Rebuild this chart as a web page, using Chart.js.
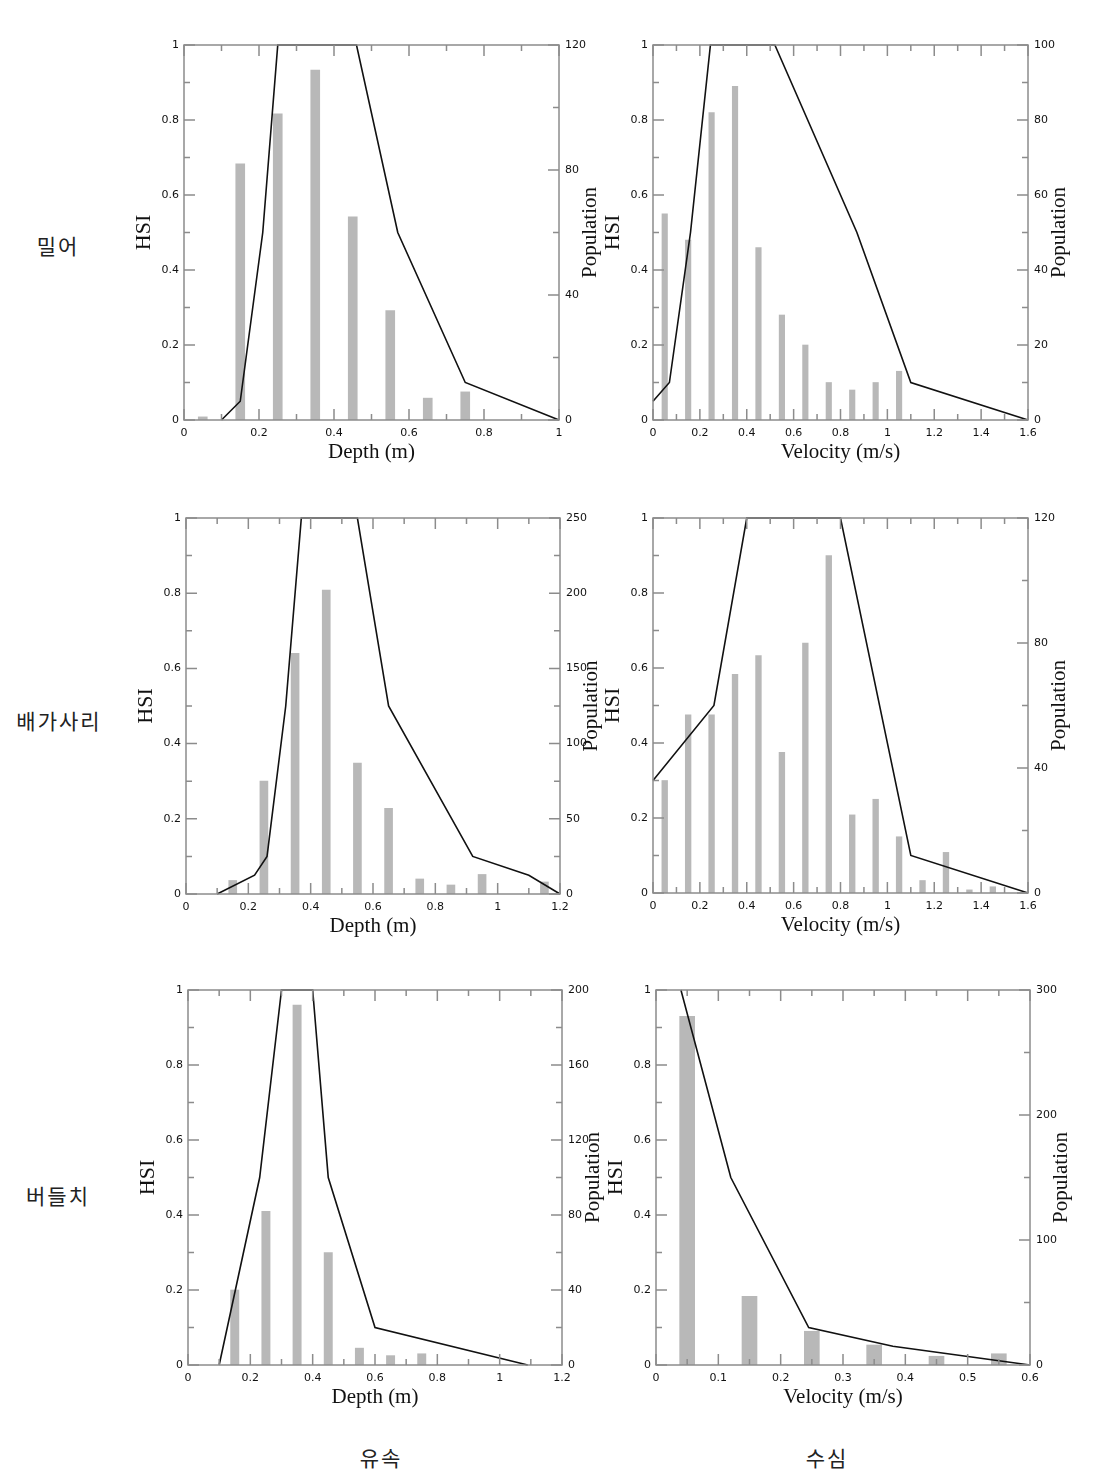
<!DOCTYPE html>
<html>
<head>
<meta charset="utf-8">
<script src="https://cdn.jsdelivr.net/npm/chart.js@4.4.1/dist/chart.umd.min.js"></script>
<style>
  html, body { margin:0; padding:0; background:#fff; }
  body { width:1120px; height:1483px; position:relative; overflow:hidden; }
  canvas { position:absolute; }
  .lbl { position:absolute; font-family:"Noto Sans CJK KR","Noto Sans",sans-serif; font-size:21px; font-weight:normal; letter-spacing:2px; color:#222; transform:translate(-50%,-50%); white-space:nowrap; }
</style>
</head>
<body>
<div class="lbl" style="left:58px;top:245px">밀어</div>
<div class="lbl" style="left:59px;top:720px">배가사리</div>
<div class="lbl" style="left:58px;top:1195px">버들치</div>
<div class="lbl" style="left:381px;top:1457px">유속</div>
<div class="lbl" style="left:827px;top:1457px">수심</div>
<script>
// ---------- DATA ----------
// 밀어 (Depth)
const milDepthBins = [0.05,0.15,0.25,0.35,0.45,0.55,0.65,0.75];
const milDepthPop  = [1,82,98,112,65,35,7,9];
const milDepthHsiX = [0.1,0.15,0.21,0.25,0.46,0.57,0.75,1.0];
const milDepthHsi  = [0,0.05,0.5,1,1,0.5,0.1,0];
// 밀어 (Velocity)
const milVelBins = [0.05,0.15,0.25,0.35,0.45,0.55,0.65,0.75,0.85,0.95,1.05];
const milVelPop  = [55,48,82,89,46,28,20,10,8,10,13];
const milVelHsiX = [0,0.07,0.16,0.245,0.52,0.87,1.1,1.6];
const milVelHsi  = [0.05,0.1,0.5,1,1,0.5,0.1,0];
// 배가사리 (Depth)
const bgDepthBins = [0.15,0.25,0.35,0.45,0.55,0.65,0.75,0.85,0.95,1.15];
const bgDepthPop  = [9,75,160,202,87,57,10,6,13,8];
const bgDepthHsiX = [0.1,0.22,0.26,0.32,0.37,0.55,0.65,0.92,1.1,1.2];
const bgDepthHsi  = [0,0.05,0.1,0.5,1,1,0.5,0.1,0.05,0];
// 배가사리 (Velocity)
const bgVelBins = [0.05,0.15,0.25,0.35,0.45,0.55,0.65,0.75,0.85,0.95,1.05,1.15,1.25,1.35,1.45];
const bgVelPop  = [36,57,57,70,76,45,80,108,25,30,18,4,13,1,2];
const bgVelHsiX = [0,0.26,0.4,0.8,1.1,1.6];
const bgVelHsi  = [0.3,0.5,1,1,0.1,0];
// 버들치 (Depth)
const bdDepthBins = [0.15,0.25,0.35,0.45,0.55,0.65,0.75];
const bdDepthPop  = [40,82,192,60,9,5,6];
const bdDepthHsiX = [0.1,0.23,0.3,0.4,0.45,0.6,1.09];
const bdDepthHsi  = [0,0.5,1,1,0.5,0.1,0];
// 버들치 (Velocity)
const bdVelBins = [0.05,0.15,0.25,0.35,0.45,0.55];
const bdVelPop  = [279,55,27,16,7,9];
const bdVelHsiX = [0.04,0.12,0.245,0.38,0.6];
const bdVelHsi  = [1,0.5,0.1,0.05,0];

// Tick labels
const hsiTickLabels    = ['0','0.2','0.4','0.6','0.8','1'];
const depth10Labels    = ['0','0.2','0.4','0.6','0.8','1'];
const depth12Labels    = ['0','0.2','0.4','0.6','0.8','1','1.2'];
const vel16Labels      = ['0','0.2','0.4','0.6','0.8','1','1.2','1.4','1.6'];
const vel06Labels      = ['0','0.1','0.2','0.3','0.4','0.5','0.6'];
const pop120Labels     = ['0','40','80','120'];
const pop100Labels     = ['0','20','40','60','80','100'];
const pop250Labels     = ['0','50','100','150','200','250'];
const pop200Labels     = ['0','40','80','120','160','200'];
const pop300Labels     = ['0','100','200','300'];

const depthTitle = 'Depth (m)';
const velTitle = 'Velocity (m/s)';
const hsiTitle = 'HSI';
const popTitle = 'Population';

// ---------- PANELS (layout/style) ----------
const panels = [
  {rect:[184,45,559,420],  xTitle:depthTitle, xMax:1.0, xStep:0.1,  xLabels:depth10Labels, popMax:120, popStep:20, popLabels:pop120Labels, bins:milDepthBins, pop:milDepthPop, hx:milDepthHsiX, hy:milDepthHsi, barPx:9},
  {rect:[653,45,1028,420], xTitle:velTitle,   xMax:1.6, xStep:0.1,  xLabels:vel16Labels,   popMax:100, popStep:10, popLabels:pop100Labels, bins:milVelBins,   pop:milVelPop,   hx:milVelHsiX,   hy:milVelHsi,   barPx:5.5},
  {rect:[186,518,560,894], xTitle:depthTitle, xMax:1.2, xStep:0.1,  xLabels:depth12Labels, popMax:250, popStep:25, popLabels:pop250Labels, bins:bgDepthBins,  pop:bgDepthPop,  hx:bgDepthHsiX,  hy:bgDepthHsi,  barPx:8},
  {rect:[653,518,1028,893],xTitle:velTitle,   xMax:1.6, xStep:0.1,  xLabels:vel16Labels,   popMax:120, popStep:20, popLabels:pop120Labels, bins:bgVelBins,    pop:bgVelPop,    hx:bgVelHsiX,    hy:bgVelHsi,    barPx:5.7},
  {rect:[188,990,562,1365],xTitle:depthTitle, xMax:1.2, xStep:0.1,  xLabels:depth12Labels, popMax:200, popStep:20, popLabels:pop200Labels, bins:bdDepthBins,  pop:bdDepthPop,  hx:bdDepthHsiX,  hy:bdDepthHsi,  barPx:8.3},
  {rect:[656,990,1030,1365],xTitle:velTitle,  xMax:0.6, xStep:0.05, xLabels:vel06Labels,   popMax:300, popStep:50, popLabels:pop300Labels, bins:bdVelBins,    pop:bdVelPop,    hx:bdVelHsiX,    hy:bdVelHsi,    barPx:15}
];

const PAD_L = 70, PAD_R = 70, PAD_T = 15, PAD_B = 50;
const FRAME = '#8c8c8c';
const TICK_FONT = {family:'DejaVu Sans', size:11};
const TITLE_FONT = 'Liberation Serif';

function isLabel(v, labels) {
  return labels.some(s => Math.abs(parseFloat(s) - v) < 1e-6);
}
function labelFor(v, labels) {
  const s = labels.find(s => Math.abs(parseFloat(s) - v) < 1e-6);
  return s === undefined ? '' : s;
}

const framePlugin = {
  id: 'frameTicks',
  afterDraw(chart, args, opts) {
    const {ctx, chartArea:a} = chart;
    const xs = chart.scales.x, ys = chart.scales.y, y1 = chart.scales.y1;
    ctx.save();
    ctx.strokeStyle = FRAME;
    ctx.lineWidth = 1.5;
    ctx.strokeRect(a.left, a.top, a.right - a.left, a.bottom - a.top);
    ctx.beginPath();
    xs.ticks.forEach(t => {
      const p = xs.getPixelForValue(t.value);
      const len = isLabel(t.value, opts.xLabels) ? 11 : 6;
      ctx.moveTo(p, a.bottom); ctx.lineTo(p, a.bottom - len);
      ctx.moveTo(p, a.top); ctx.lineTo(p, a.top + len);
    });
    ys.ticks.forEach(t => {
      const p = ys.getPixelForValue(t.value);
      const len = isLabel(t.value, hsiTickLabels) ? 11 : 6;
      ctx.moveTo(a.left, p); ctx.lineTo(a.left + len, p);
    });
    y1.ticks.forEach(t => {
      const p = y1.getPixelForValue(t.value);
      const len = isLabel(t.value, opts.popLabels) ? 11 : 6;
      ctx.moveTo(a.right, p); ctx.lineTo(a.right - len, p);
    });
    ctx.stroke();
    // right-axis title (reads bottom to top)
    ctx.fillStyle = '#111';
    ctx.font = '21px "' + TITLE_FONT + '"';
    ctx.textAlign = 'center';
    ctx.textBaseline = 'middle';
    ctx.translate(a.right + 31, (a.top + a.bottom) / 2);
    ctx.rotate(-Math.PI / 2);
    ctx.fillText(popTitle, 0, 0);
    ctx.restore();
  }
};

panels.forEach(p => {
  const [L, T, R, B] = p.rect;
  const w = (R - L) + PAD_L + PAD_R;
  const h = (B - T) + PAD_T + PAD_B;
  const cv = document.createElement('canvas');
  cv.width = w; cv.height = h;
  cv.style.width = w + 'px'; cv.style.height = h + 'px';
  cv.style.left = (L - PAD_L) + 'px';
  cv.style.top = (T - PAD_T) + 'px';
  document.body.appendChild(cv);

  const barData = p.bins.map((x, i) => ({x: x, y: p.pop[i]}));
  const lineData = p.hx.map((x, i) => ({x: x, y: p.hy[i]}));

  new Chart(cv.getContext('2d'), {
    data: {
      datasets: [
        {type:'bar', label:popTitle, data:barData, yAxisID:'y1', xAxisID:'x',
         backgroundColor:'#b8b8b8', borderWidth:0, barThickness:p.barPx, order:2},
        {type:'line', label:hsiTitle, data:lineData, yAxisID:'y', xAxisID:'x',
         borderColor:'#111', borderWidth:1.6, pointRadius:0, tension:0, fill:false, clip:4, order:1}
      ]
    },
    options: {
      responsive:false, animation:false, devicePixelRatio:1, maintainAspectRatio:false,
      layout:{padding:{top:PAD_T, left:0, right:0, bottom:0}},
      plugins:{legend:{display:false}, tooltip:{enabled:false}, frameTicks:{xLabels:p.xLabels, popLabels:p.popLabels}},
      scales:{
        x:{type:'linear', position:'bottom', min:0, max:p.xMax, offset:false,
           grid:{display:false, drawTicks:false}, border:{display:false},
           ticks:{stepSize:p.xStep, autoSkip:false, maxRotation:0, padding:7, font:TICK_FONT, color:'#111',
                  callback:(v) => labelFor(v, p.xLabels)},
           title:{display:true, text:p.xTitle, color:'#111', font:{family:TITLE_FONT, size:21}, padding:{top:0, bottom:5}},
           afterFit:(s) => { s.height = PAD_B; }},
        y:{type:'linear', position:'left', min:0, max:1,
           grid:{display:false, drawTicks:false}, border:{display:false},
           ticks:{stepSize:0.1, autoSkip:false, padding:5, font:TICK_FONT, color:'#111',
                  callback:(v) => labelFor(v, hsiTickLabels)},
           title:{display:true, text:hsiTitle, color:'#111', font:{family:TITLE_FONT, size:22}, padding:{top:17, bottom:0}},
           afterFit:(s) => { s.width = PAD_L; }},
        y1:{type:'linear', position:'right', min:0, max:p.popMax,
           grid:{display:false, drawTicks:false, drawOnChartArea:false}, border:{display:false},
           ticks:{stepSize:p.popStep, autoSkip:false, padding:6, font:TICK_FONT, color:'#111',
                  callback:(v) => labelFor(v, p.popLabels)},
           afterFit:(s) => { s.width = PAD_R; }}
      }
    },
    plugins:[framePlugin]
  });
});
</script>
</body>
</html>
